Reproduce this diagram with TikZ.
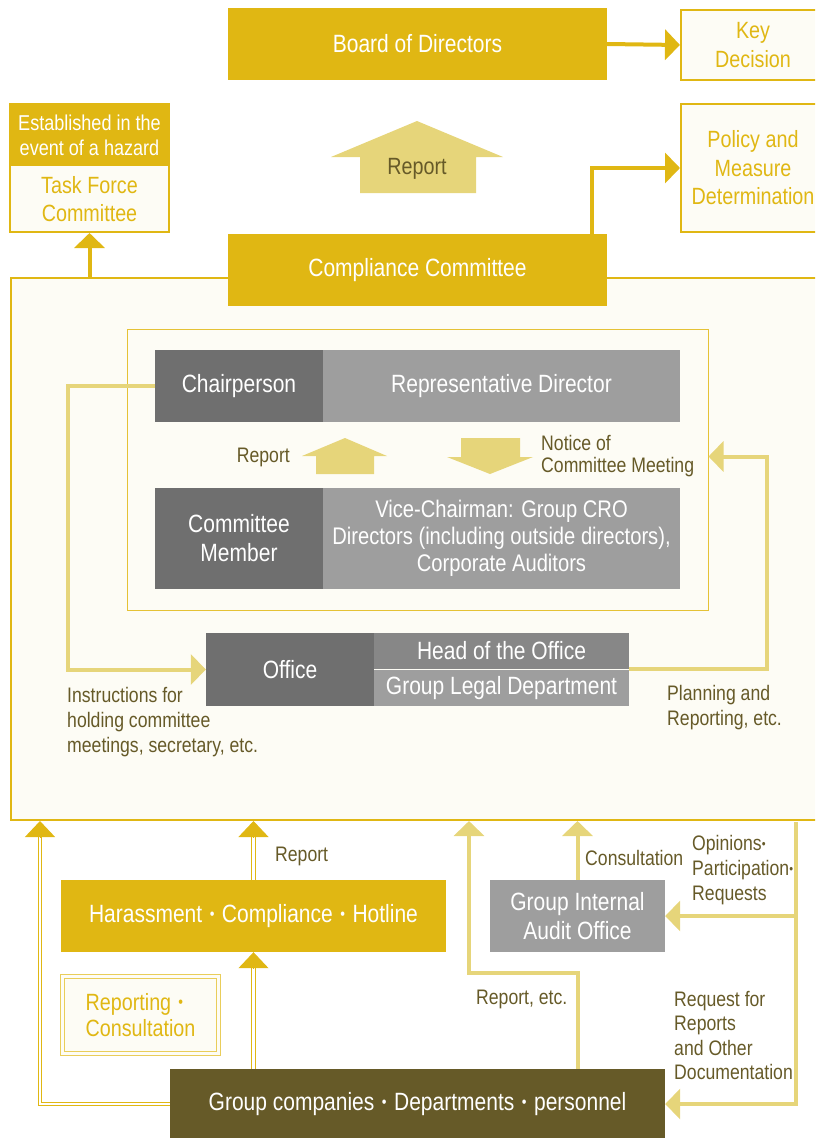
\documentclass[tikz,border=0pt]{standalone}
\usepackage{fontspec}
\setmainfont{Liberation Sans}[FakeStretch=0.84]
\usetikzlibrary{arrows.meta}

\definecolor{gold}{HTML}{E0B713}
\definecolor{palegold}{HTML}{E6D57A}
\definecolor{cream}{HTML}{FDFCF5}
\definecolor{darkgrey}{HTML}{6F6F6F}
\definecolor{midgrey}{HTML}{878787}
\definecolor{lightgrey}{HTML}{9E9E9E}
\definecolor{olive}{HTML}{665A28}

\newcommand{\boxfont}{\fontsize{25pt}{29pt}\selectfont}
\newcommand{\smallboxfont}{\fontsize{23.5pt}{28.5pt}\selectfont}
\newcommand{\lblfont}{\fontsize{21pt}{25pt}\selectfont}
\newcommand{\sepdot}{\hspace{0.3em}\raisebox{2.5pt}{\fontsize{16pt}{16pt}\selectfont\textbullet}\hspace{0.3em}}
\newcommand{\tdot}{\raisebox{2pt}{\fontsize{13pt}{13pt}\selectfont\textbullet}}

\tikzset{
  goldbox/.style={fill=gold, text=white, inner sep=0pt, font=\boxfont, align=center},
  outlinebox/.style={draw=gold, line width=2pt, fill=cream, text=gold, inner sep=0pt, font=\smallboxfont, align=center},
  greybox/.style={fill=#1, text=white, inner sep=0pt, font=\boxfont, align=center},
  lbl/.style={text=olive, inner sep=0pt, font=\lblfont, align=left},
  goldline/.style={draw=gold, line width=4pt},
  paleline/.style={draw=palegold, line width=4pt},
  headtip/.style={-{Triangle[width=30pt,length=15pt]}},
  dbl/.style={draw=gold, line width=1.1pt, double=white, double distance=2.4pt},
  goldhead/.style={draw=gold, line width=1pt, -{Triangle[width=30pt,length=16pt]}},
}

\begin{document}
\begin{tikzpicture}[x=1pt,y=-1pt]
\useasboundingbox (0,0) rectangle (815,1138);
\clip (0,0) rectangle (815,1138);

% top row
\node[goldbox, minimum width=379, minimum height=72] (board) at (417.5,44) {Board of Directors};
\node[outlinebox, minimum width=144, minimum height=70] (keydec) at (753,45) {Key\\Decision};
\node[outlinebox, minimum width=144, minimum height=128] (policy) at (753,168) {Policy and\\Measure\\Determination};
\node[outlinebox, minimum width=159, minimum height=128] (tfbody) at (89.5,168) {};
\node[goldbox, minimum width=159, minimum height=62, font=\fontsize{21.5pt}{25pt}\selectfont] (tfhead) at (89.5,135) {Established in the\\event of a hazard};
\node[text=gold, font=\smallboxfont, align=center] (tftext) at (89.5,199) {Task Force\\Committee};

% report arrow up to the board
\fill[palegold] (331,157) -- (417,121) -- (503,157) -- (476,157) -- (476,193) -- (360,193) -- (360,157) -- cycle;
\node[text=olive, font=\fontsize{23.5pt}{28pt}\selectfont] (bigreport) at (417,169) {Report};

% compliance committee area
\node[draw=gold, line width=2pt, fill=cream, minimum width=819, minimum height=542] (area) at (420.5,549) {};
\node[goldbox, minimum width=379, minimum height=72] (compliance) at (417.5,270) {Compliance Committee};
\node[draw=gold!85, line width=1pt, fill=cream, minimum width=581, minimum height=281] (inner) at (417.5,469.5) {};

\node[greybox=darkgrey, minimum width=168, minimum height=72] (chair) at (239,386) {Chairperson};
\node[greybox=lightgrey, minimum width=357, minimum height=72] (repdir) at (501.5,386) {Representative Director};
\node[greybox=darkgrey, minimum width=168, minimum height=101] (member) at (239,538.5) {Committee\\Member};
\node[greybox=lightgrey, minimum width=357, minimum height=101, font=\fontsize{24pt}{27pt}\selectfont] (memberlist) at (501.5,538.5) {Vice-Chairman: Group CRO\\Directors (including outside directors),\\Corporate Auditors};

\fill[palegold] (302,456) -- (345,438) -- (387,456) -- (374,456) -- (374,474) -- (316,474) -- (316,456) -- cycle;
\fill[palegold] (461,438) -- (520,438) -- (520,457) -- (533,457) -- (490,474) -- (447,457) -- (461,457) -- cycle;
\node[lbl, anchor=east] (upreport) at (290,457) {Report};
\node[lbl, anchor=west, font=\fontsize{21pt}{22pt}\selectfont] (notice) at (541,456) {Notice of\\Committee Meeting};

\node[greybox=darkgrey, minimum width=168, minimum height=73] (office) at (290,669.5) {Office};
\node[greybox=midgrey, minimum width=255, minimum height=36] (head) at (501.5,651) {Head of the Office};
\node[greybox=lightgrey, minimum width=255, minimum height=36] (legal) at (501.5,688) {Group Legal Department};

\node[lbl, anchor=west] (instr) at (67,722) {Instructions for\\holding committee\\meetings, secretary, etc.};
\node[lbl, anchor=west] (planning) at (667,707.5) {Planning and\\Reporting, etc.};

% connectors in the top half
\draw[goldline, headtip] (board.east) -- (keydec.west);
\draw[goldline, headtip] ([xshift=-15pt]compliance.north east) |- (policy.west);
\draw[goldline, headtip] (tfbody.south |- area.north) -- (tfbody.south);
\draw[paleline, headtip] (chair.west) -- ++(-87,0) |- (office.west);
\draw[paleline, headtip] (head.south east) -- ++(138,0) |- ([yshift=13pt]inner.east);

% bottom boxes
\node[goldbox, minimum width=385, minimum height=72] (hotline) at (253.5,916) {Harassment\sepdot Compliance\sepdot Hotline};
\node[greybox=lightgrey, minimum width=175, minimum height=72] (audit) at (577.5,916) {Group Internal\\Audit Office};
\node[draw=gold!70, line width=0.9pt, double=cream, double distance=3pt, fill=cream, text=gold, font=\fontsize{23.5pt}{26pt}\selectfont, align=left, minimum width=156, minimum height=77] (repcons) at (140.5,1015) {Reporting\sepdot\\Consultation};
\node[greybox=olive, minimum width=495, minimum height=70] (gc) at (417.5,1104) {Group companies\sepdot Departments\sepdot personnel};

\node[lbl, anchor=west] (hlreport) at (275,856) {Report};
\node[lbl, anchor=west] (consult) at (585,858) {Consultation};
\node[lbl, anchor=west] (opinions) at (692,870) {Opinions\tdot\\Participation\tdot\\Requests};
\node[lbl, anchor=west] (repetc) at (476,999) {Report, etc.};
\node[lbl, anchor=west, font=\fontsize{21pt}{24.3pt}\selectfont] (request) at (674,1035.5) {Request for\\Reports\\and Other\\Documentation};

% double lines from the group companies
\coordinate (lftin) at (40,821);
\coordinate (lftbase) at (40,837);
\coordinate (hlin) at (hotline.north |- area.south);
\draw[dbl] (gc.west) -| (lftbase);
\draw[goldhead] (lftbase) -- (lftin);
\draw[dbl] (hotline.north) -- ([yshift=-16pt]hlin);
\draw[goldhead] ([yshift=-16pt]hlin) -- (hlin);
\draw[dbl] (gc.north -| hotline.south) -- ([yshift=-16pt]hotline.south);
\draw[goldhead] ([yshift=-16pt]hotline.south) -- (hotline.south);

% pale connectors on the right
\coordinate (repin) at (469,821);
\coordinate (rgtin) at (796,822);
\draw[paleline, headtip] (audit.south |- gc.north) -- ++(0,-96) -| (repin);
\draw[paleline, headtip] (audit.north) -- (audit.north |- area.south);
\draw[paleline, headtip] (rgtin) |- (gc.east);
\draw[paleline, headtip] (rgtin |- audit.east) -- (audit.east);
\end{tikzpicture}
\end{document}
